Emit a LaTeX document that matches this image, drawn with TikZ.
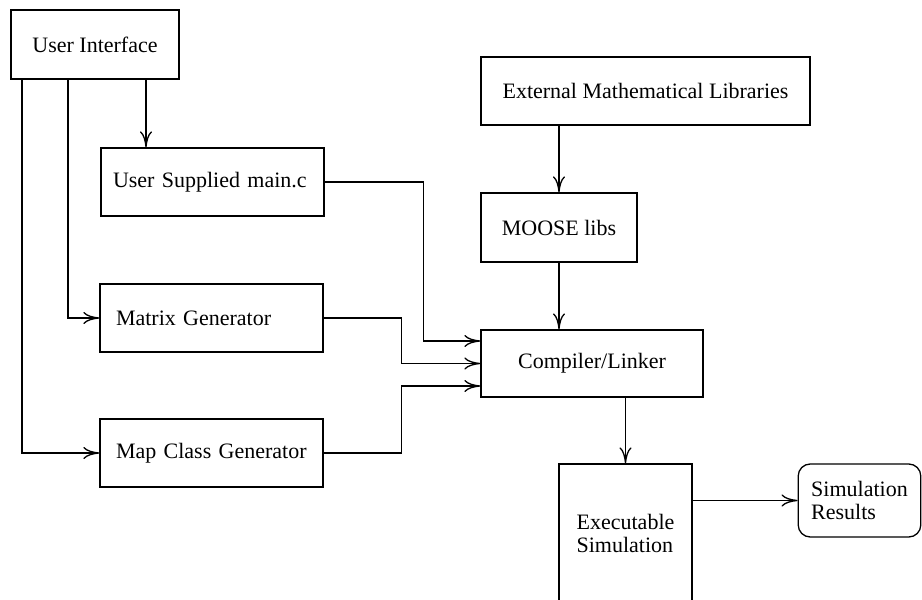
\documentclass[tikz,border=0pt]{standalone}
\usepackage{fontspec}
\setmainfont{Liberation Serif}
\usetikzlibrary{arrows.meta}

\begin{document}
\begin{tikzpicture}[x=0.5pt, y=-0.5pt, >={To[length=8pt,width=6pt]}, line width=0.65pt,
    box/.style={draw, rectangle, inner sep=0pt, font=\fontsize{11}{11.5}\selectfont},
    genbox/.style={box, text width=99.5pt, inner xsep=6pt, align=left, minimum height=34pt}]
    \useasboundingbox (0,0) rectangle (922,600);

    % Source side
    \node (ui) at (95,44.5) [box, minimum width=84pt, minimum height=34.5pt] {User Interface};
    \node (mainc) at (212.5,182) [genbox] {User Supplied main.c};
    \node (matrix) at (211.5,318) [genbox] {\hspace{2pt}Matrix Generator};
    \node (mapgen) at (211.5,453) [genbox] {\hspace{2pt}Map Class Generator};

    % Libraries
    \node (extlib) at (645.5,91) [box, minimum width=164.5pt, minimum height=34pt] {External Mathematical Libraries};
    \node (moose) at (559,227.5) [box, minimum width=78pt, minimum height=34.5pt] {MOOSE libs};

    % Build and run
    \node (compiler) at (592,363.5) [box, minimum width=111pt, minimum height=33.5pt] {Compiler/Linker};
    \node (exec) at (625.5,533.5) [box, align=left, minimum width=66.5pt, minimum height=69.5pt] {Executable\\Simulation};
    \node (results) at (859.5,500.5) [box, align=left, inner xsep=6.5pt, rounded corners=6pt, minimum height=36.5pt] {Simulation\\Results};

    % User Interface feeds
    \coordinate (uiright) at ([xshift=25.5pt]ui.south);
    \draw[->] (uiright) -- (uiright |- mainc.north);
    \draw[->] ([xshift=-13.5pt]ui.south) |- (matrix.west);
    \draw[->] ([xshift=-36.5pt]ui.south) |- (mapgen.west);

    % Into the compiler
    \draw[->] (mainc.east) -| ([xshift=-28.5pt, yshift=11.25pt]compiler.west) -- ([yshift=11.25pt]compiler.west);
    \draw[->] (matrix.east) -| ([xshift=-39.5pt]compiler.west) -- (compiler.west);
    \draw[->] (mapgen.east) -| ([xshift=-39.5pt, yshift=-11.25pt]compiler.west) -- ([yshift=-11.25pt]compiler.west);
    \draw[->] (extlib.south -| moose.north) -- (moose.north);
    \draw[->] (moose.south) -- (moose.south |- compiler.north);

    % Output
    \draw[->] (compiler.south -| exec.north) -- (exec.north);
    \draw[->] (exec.east |- results.west) -- (results.west);
\end{tikzpicture}
\end{document}
